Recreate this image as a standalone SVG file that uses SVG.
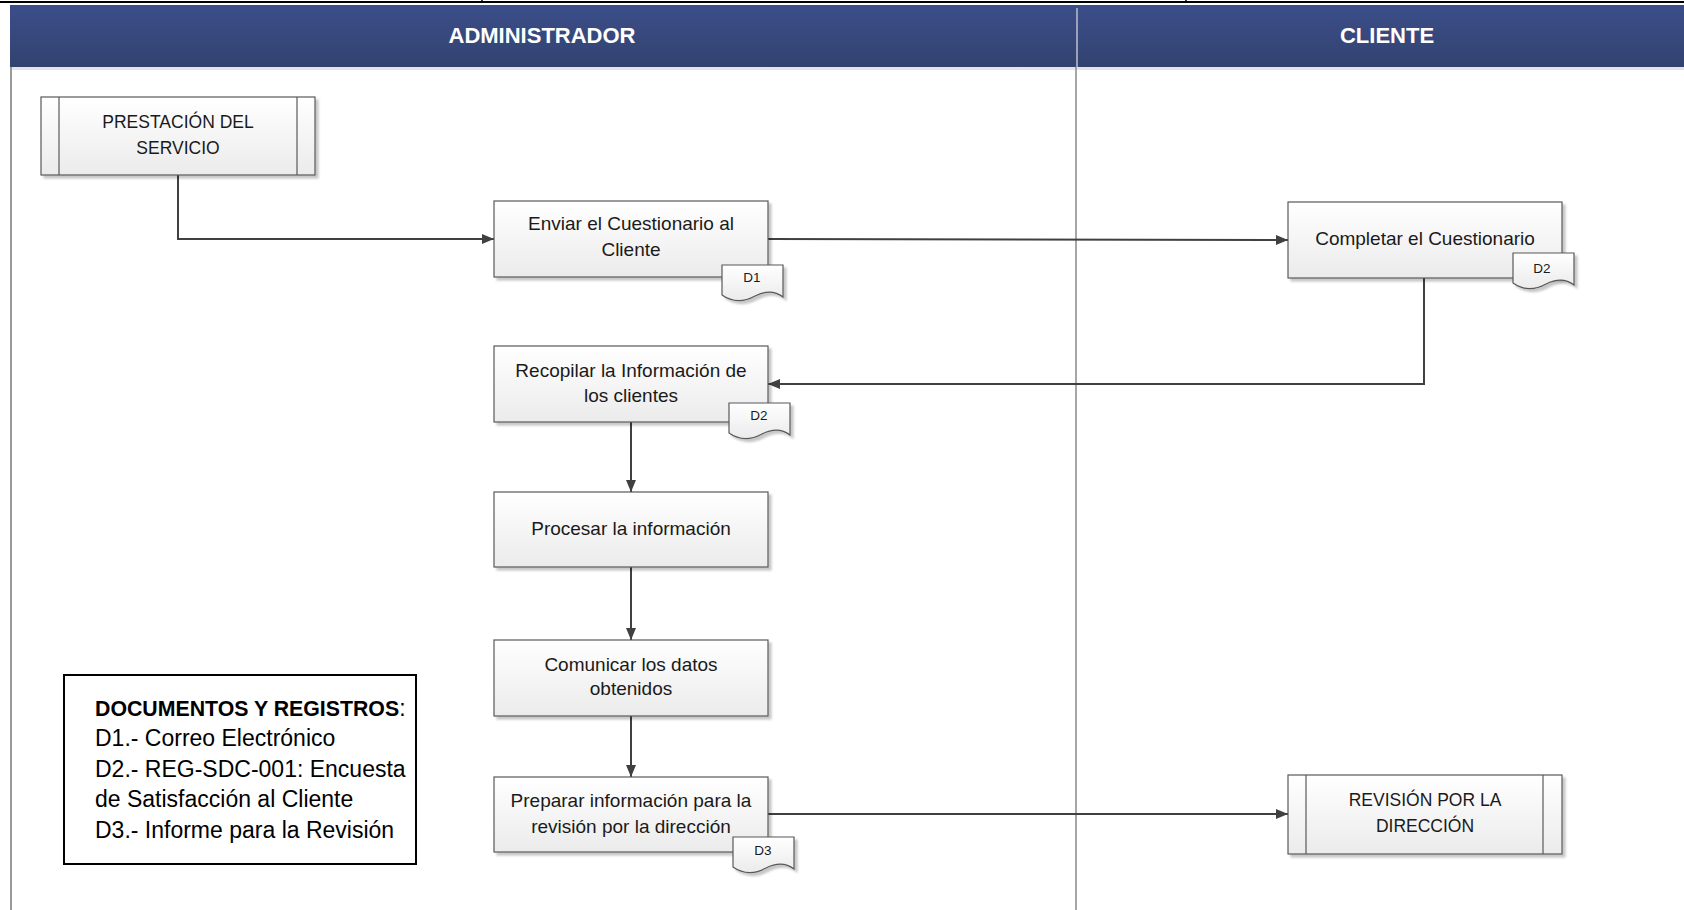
<svg xmlns="http://www.w3.org/2000/svg" width="1684" height="910" viewBox="0 0 1684 910">
  <defs>
    <linearGradient id="hdrGrad" x1="0" y1="0" x2="0" y2="1">
      <stop offset="0" stop-color="#3c4e8a"/>
      <stop offset="1" stop-color="#32426f"/>
    </linearGradient>
    <linearGradient id="boxGrad" x1="0" y1="0" x2="0" y2="1">
      <stop offset="0" stop-color="#ffffff"/>
      <stop offset="1" stop-color="#ebebeb"/>
    </linearGradient>
    <filter id="shadow" x="-10%" y="-10%" width="130%" height="140%">
      <feDropShadow dx="3" dy="3" stdDeviation="1.2" flood-color="#000" flood-opacity="0.22"/>
    </filter>
    <marker id="arrow" viewBox="0 0 12 10" refX="12" refY="5" markerWidth="12" markerHeight="10" markerUnits="userSpaceOnUse" orient="auto">
      <path d="M0,0 L12,5 L0,10 Z" fill="#404040"/>
    </marker>
    <path id="docShape" d="M0,0 H61 V32 C52,25 43,26 33,31 C22,37 10,37 0,30 Z"/>
  </defs>
  <style>
    .box { fill: url(#boxGrad); stroke: #595959; stroke-width: 1.2; filter: url(#shadow); }
    .bar { fill: none; stroke: #595959; stroke-width: 1.2; }
    .doc { fill: url(#boxGrad); stroke: #595959; stroke-width: 1.2; filter: url(#shadow); }
    .lbl { font-family: "Liberation Sans", Arial, sans-serif; font-size: 19px; fill: #1a1a1a; text-anchor: middle; }
    .cap { font-family: "Liberation Sans", Arial, sans-serif; font-size: 17.5px; fill: #1a1a1a; text-anchor: middle; }
    .dlbl { font-family: "Liberation Sans", Arial, sans-serif; font-size: 13.5px; fill: #1a1a1a; text-anchor: middle; }
    .hdr { font-family: "Liberation Sans", Arial, sans-serif; font-size: 22px; font-weight: bold; fill: #ffffff; text-anchor: middle; }
    .leg { font-family: "Liberation Sans", Arial, sans-serif; font-size: 23px; fill: #000000; }
    .conn { fill: none; stroke: #404040; stroke-width: 2; marker-end: url(#arrow); }
  </style>

  <rect width="1684" height="910" fill="#ffffff"/>

  <!-- page frame strip at the top -->
  <line x1="0" y1="2" x2="1684" y2="2" stroke="#000" stroke-width="2"/>
  <line x1="482" y1="0" x2="482" y2="3" stroke="#000" stroke-width="1.5"/>
  <line x1="1186" y1="0" x2="1186" y2="3" stroke="#000" stroke-width="1.5"/>

  <!-- swimlane pool -->
  <g id="pool">
    <rect x="10" y="5" width="1674" height="62" fill="url(#hdrGrad)"/>
    <rect x="10" y="67" width="1674" height="3" fill="#e4e4e4"/>
    <line x1="11" y1="67" x2="11" y2="910" stroke="#9a9a9a" stroke-width="2"/>
    <line x1="1077" y1="8" x2="1077" y2="67" stroke="#9aa1b8" stroke-width="2"/>
    <line x1="1076" y1="67" x2="1076" y2="910" stroke="#8a8a8a" stroke-width="1.5"/>
    <text class="hdr" x="542" y="43">ADMINISTRADOR</text>
    <text class="hdr" x="1387" y="43">CLIENTE</text>
  </g>

  <!-- connectors -->
  <g id="connectors">
    <polyline class="conn" points="178,175 178,239 494,239"/>
    <line class="conn" x1="768" y1="239" x2="1288" y2="240"/>
    <polyline class="conn" points="1424,278 1424,384 768,384"/>
    <line class="conn" x1="631" y1="422" x2="631" y2="492"/>
    <line class="conn" x1="631" y1="567" x2="631" y2="640"/>
    <line class="conn" x1="631" y1="716" x2="631" y2="777"/>
    <line class="conn" x1="768" y1="814" x2="1288" y2="814"/>
  </g>

  <!-- predefined process: start -->
  <g id="prestacion">
    <rect class="box" x="41" y="97" width="274" height="78"/>
    <line class="bar" x1="59" y1="97" x2="59" y2="175"/>
    <line class="bar" x1="297" y1="97" x2="297" y2="175"/>
    <text class="cap" x="178" y="128">PRESTACIÓN DEL</text>
    <text class="cap" x="178" y="153.5">SERVICIO</text>
  </g>

  <g id="enviar">
    <rect class="box" x="494" y="201" width="274" height="76"/>
    <text class="lbl" x="631" y="230">Enviar el Cuestionario al</text>
    <text class="lbl" x="631" y="256">Cliente</text>
    <use href="#docShape" class="doc" x="722" y="265"/>
    <text class="dlbl" x="752" y="282">D1</text>
  </g>

  <g id="completar">
    <rect class="box" x="1288" y="202" width="274" height="76"/>
    <text class="lbl" x="1425" y="245">Completar el Cuestionario</text>
    <use href="#docShape" class="doc" x="1513" y="253"/>
    <text class="dlbl" x="1542" y="272.5">D2</text>
  </g>

  <g id="recopilar">
    <rect class="box" x="494" y="346" width="274" height="76"/>
    <text class="lbl" x="631" y="377">Recopilar la Información de</text>
    <text class="lbl" x="631" y="401.5">los clientes</text>
    <use href="#docShape" class="doc" x="729" y="403"/>
    <text class="dlbl" x="759" y="420">D2</text>
  </g>

  <g id="procesar">
    <rect class="box" x="494" y="492" width="274" height="75"/>
    <text class="lbl" x="631" y="534.5">Procesar la información</text>
  </g>

  <g id="comunicar">
    <rect class="box" x="494" y="640" width="274" height="76"/>
    <text class="lbl" x="631" y="670.5">Comunicar los datos</text>
    <text class="lbl" x="631" y="695">obtenidos</text>
  </g>

  <g id="preparar">
    <rect class="box" x="494" y="777" width="274" height="75"/>
    <text class="lbl" x="631" y="807">Preparar información para la</text>
    <text class="lbl" x="631" y="832.5">revisión por la dirección</text>
    <use href="#docShape" class="doc" x="733" y="837"/>
    <text class="dlbl" x="763" y="855">D3</text>
  </g>

  <!-- predefined process: end -->
  <g id="revision">
    <rect class="box" x="1288" y="775" width="274" height="79"/>
    <line class="bar" x1="1306" y1="775" x2="1306" y2="854"/>
    <line class="bar" x1="1543" y1="775" x2="1543" y2="854"/>
    <text class="cap" x="1425" y="805.5">REVISIÓN POR LA</text>
    <text class="cap" x="1425" y="831.5">DIRECCIÓN</text>
  </g>

  <!-- documents and records legend -->
  <g id="legend">
    <rect x="64" y="675" width="352" height="189" fill="#ffffff" stroke="#000000" stroke-width="2"/>
    <text class="leg" x="95" y="715.5"><tspan font-weight="bold" font-size="21.3px">DOCUMENTOS Y REGISTROS</tspan>:</text>
    <text class="leg" x="95" y="746">D1.- Correo Electrónico</text>
    <text class="leg" x="95" y="776.5">D2.- REG-SDC-001: Encuesta</text>
    <text class="leg" x="95" y="807">de Satisfacción al Cliente</text>
    <text class="leg" x="95" y="837.5">D3.- Informe para la Revisión</text>
  </g>
</svg>
